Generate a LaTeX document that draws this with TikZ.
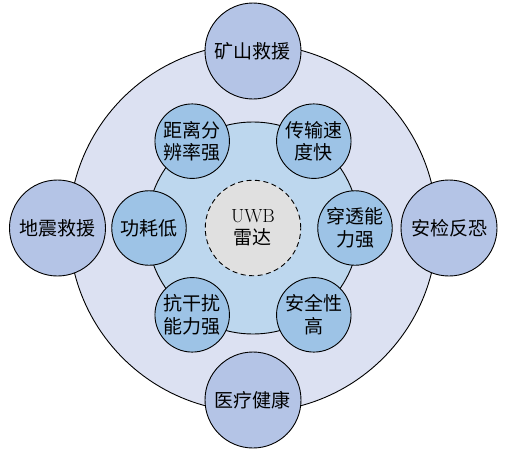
\documentclass[tikz,border=0pt]{standalone}
\usepackage{fontspec}
\newfontfamily\cjk{Noto Sans CJK SC}
\definecolor{outerfill}{RGB}{220,225,242}
\definecolor{appfill}{RGB}{180,196,230}
\definecolor{midfill}{RGB}{189,215,238}
\definecolor{featfill}{RGB}{157,195,230}
\definecolor{corefill}{RGB}{224,224,224}
\begin{document}
\begin{tikzpicture}[x=1pt,y=1pt,line width=0.9pt,
    every node/.style={circle,draw,inner sep=0pt,align=center,
        font=\fontsize{19}{22.5}\selectfont\cjk},
    app/.style={fill=appfill,minimum size=96pt},
    feat/.style={fill=featfill,minimum size=74.5pt}]
    \useasboundingbox (-253,-228) rectangle (258,228);
    % application ring
    \draw[fill=outerfill] (0,0) circle (184);
    \node[app] (mine) at (0,177) {矿山救援};
    \node[app] (quake) at (-195.5,0) {地震救援};
    \node[app] (secure) at (196,0) {安检反恐};
    \node[app] (med) at (0,-172) {医疗健康};
    % feature ring
    \draw[fill=midfill] (0,0) circle (106);
    \node[feat] (resol) at (125:106) {距离分\\辨率强};
    \node[feat] (rate) at (55:106) {传输速\\度快};
    \node[feat] (power) at (180:104) {功耗低};
    \node[feat] (pene) at (0:102) {穿透能\\力强};
    \node[feat] (anti) at (235:106) {抗干扰\\能力强};
    \node[feat] (safe) at (305:106) {安全性\\高};
    \node[fill=corefill,dash pattern=on 5pt off 3.5pt,minimum size=95.5pt] (uwb) at (0,0) {{\rmfamily UWB}\\雷达};
\end{tikzpicture}
\end{document}
